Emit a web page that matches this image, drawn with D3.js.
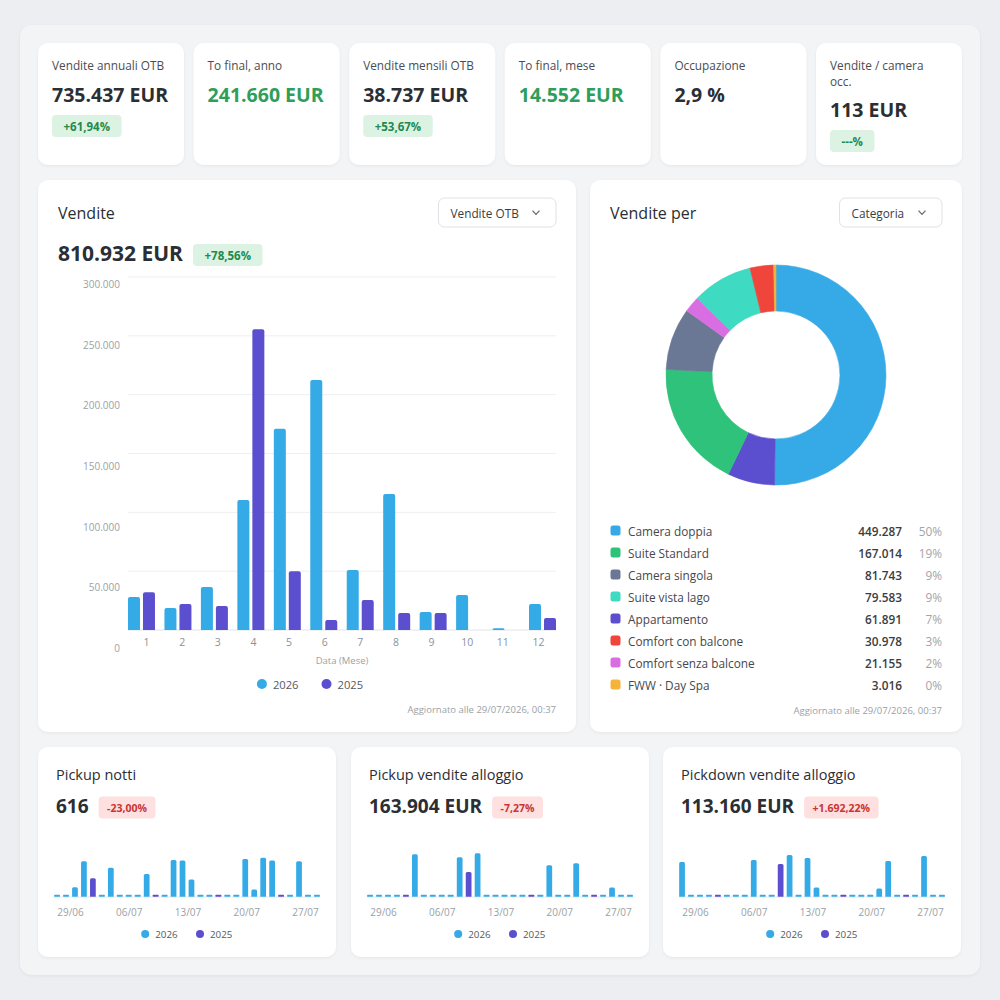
<!DOCTYPE html>
<html><head><meta charset="utf-8">
<script src="https://cdn.jsdelivr.net/npm/d3@7"></script>
<style>
html,body{margin:0;padding:0;background:#eceef1;}
svg{display:block;font-family:"Open Sans",sans-serif;}
</style></head><body>
<svg id="c" width="1000" height="1000"></svg>
<script>
// ---------------- DATA ----------------
const kpiTitles = [["Vendite annuali OTB"],["To final, anno"],["Vendite mensili OTB"],["To final, mese"],["Occupazione"],["Vendite / camera","occ."]];
const kpiValues = ["735.437 EUR","241.660 EUR","38.737 EUR","14.552 EUR","2,9 %","113 EUR"];
const kpiBadges = ["+61,94%", null, "+53,67%", null, null, "---%"];
const kpiGreenValue = [false, true, false, true, false, false];

const months = [1,2,3,4,5,6,7,8,9,10,11,12];
const seriesNames = ["2026","2025"];
const sales2026 = [28000, 18700, 36500, 110500, 171000, 212500, 51000, 115500, 15300, 29700, 1400, 22000];
const sales2025 = [32000, 22000, 20400, 255700, 50000, 8500, 25500, 14400, 14400, 0, 0, 10200];
const yTicks = [0, 50000, 100000, 150000, 200000, 250000, 300000];

const categories = ["Camera doppia","Suite Standard","Camera singola","Suite vista lago","Appartamento","Comfort con balcone","Comfort senza balcone","FWW · Day Spa"];
const catValues = [449287, 167014, 81743, 79583, 61891, 30978, 21155, 3016];
const catColors = ["#36aae6","#2fc27b","#6b7895","#3fdac2","#5b4fcf","#f0453a","#d96ee3","#f5b437"];
const donutOrder = ["Camera doppia","Appartamento","Suite Standard","Camera singola","Comfort senza balcone","Suite vista lago","Comfort con balcone","FWW · Day Spa"];

const days = ["29/06","30/06","01/07","02/07","03/07","04/07","05/07","06/07","07/07","08/07","09/07","10/07","11/07","12/07","13/07","14/07","15/07","16/07","17/07","18/07","19/07","20/07","21/07","22/07","23/07","24/07","25/07","26/07","27/07","28/07"];
const dayTicks = ["29/06","06/07","13/07","20/07","27/07"];
const _ = null;
const notti2026 = [0,0,17,64,_,0,52,0,0,0,41,_,0,66,65,31,0,0,_,0,0,68,13,70,65,_,0,64,0,0];
const notti2025 = [_,_,_,_,33,_,_,_,_,_,_,0,_,_,_,_,_,_,0,_,_,_,_,_,_,0,_,_,_,_];
const pickup2026 = [0,0,0,0,_,34850,0,0,0,0,32400,_,35660,0,0,0,0,0,_,0,25870,0,0,27520,0,_,0,7604,0,0];
const pickup2025 = [_,_,_,_,0,_,_,_,_,_,_,20200,_,_,_,_,_,_,0,_,_,_,_,_,_,0,_,_,_,_];
const pickdown2026 = [15970,0,0,0,_,0,0,0,16890,0,0,_,19190,0,17810,4280,0,0,_,0,0,0,3820,16430,0,_,0,18770,0,0];
const pickdown2025 = [_,_,_,_,0,_,_,_,_,_,_,15050,_,_,_,_,_,_,0,_,_,_,_,_,_,0,_,_,_,_];
const smallTitles = ["Pickup notti","Pickup vendite alloggio","Pickdown vendite alloggio"];
const smallValues = ["616","163.904 EUR","113.160 EUR"];
const smallBadges = ["-23,00%","-7,27%","+1.692,22%"];
const smallMax = [90, 41000, 23000];

// ---------------- STYLE ----------------
const C26 = "#34aae6", C25 = "#5b4fcf";
const TXT = "#2b2e33", GREEN = "#2e9e5b";
const it = d3.formatLocale({decimal:",", thousands:".", grouping:[3], currency:["","€"]});
const fmt = it.format(",.0f");

const svg = d3.select("#c");
const defs = svg.append("defs");
const f = defs.append("filter").attr("id","sh").attr("x","-10%").attr("y","-10%").attr("width","120%").attr("height","130%");
f.append("feDropShadow").attr("dx",0).attr("dy",1).attr("stdDeviation",1.5).attr("flood-color","#000").attr("flood-opacity",0.06);

svg.append("rect").attr("x",20).attr("y",25).attr("width",960).attr("height",950).attr("rx",12).attr("fill","#f3f4f6")
  .attr("filter","url(#sh)");

function card(x,y,w,h){
  return svg.append("rect").attr("x",x).attr("y",y).attr("width",w).attr("height",h).attr("rx",10)
    .attr("fill","#fff").attr("filter","url(#sh)");
}
function badge(g, x, yc, text, good, fs, pad){
  const bg = good ? "#dcf3e4" : "#fde0df";
  const fg = good ? "#1f8a4c" : "#c93434";
  const r = g.append("rect").attr("y", yc-11).attr("height",22).attr("rx",4).attr("fill",bg);
  const t = g.append("text").attr("y", yc).attr("dominant-baseline","central").attr("font-size",fs||11.5)
    .attr("font-weight",700).style("fill",fg).text(text);
  const tw = t.node().getComputedTextLength();
  pad = pad || 11.5;
  r.attr("x", x).attr("width", tw + pad*2);
  t.attr("x", x + pad);
}

// ---------------- KPI ROW ----------------
kpiTitles.forEach((lines,i)=>{
  const x = 38 + i*155.6, w = 146;
  card(x,43,w,122);
  const g = svg.append("g");
  lines.forEach((l,j)=>{
    g.append("text").attr("x",x+14).attr("y",64.5+j*16).attr("dominant-baseline","central")
      .attr("font-size",11.8).style("fill","#4a4d52").text(l);
  });
  const off = (lines.length-1)*15;
  g.append("text").attr("x",x+14).attr("y",94+off).attr("dominant-baseline","central")
    .attr("font-size",19.5).attr("font-weight",700).style("fill", kpiGreenValue[i]?GREEN:TXT).text(kpiValues[i]);
  if(kpiBadges[i]) badge(g, x+14, 126+off, kpiBadges[i], true);
});

// ---------------- MAIN BAR CARD ----------------
card(38,180,538,552);
svg.append("text").attr("x",58).attr("y",213).attr("dominant-baseline","central").attr("font-size",16).style("fill",TXT).text("Vendite");
function dropdown(x,y,w,label){
  svg.append("rect").attr("x",x).attr("y",y).attr("width",w).attr("height",29).attr("rx",6)
    .attr("fill","#fff").attr("stroke","#dfe2e6");
  svg.append("text").attr("x",x+12).attr("y",y+15).attr("dominant-baseline","central").attr("font-size",11.8).style("fill","#3a3d42").text(label);
  const cx = x+w-20, cy = y+14.5;
  svg.append("path").attr("d",`M${cx-3.5},${cy-1.8}L${cx},${cy+1.8}L${cx+3.5},${cy-1.8}`).attr("fill","none").attr("stroke","#666").attr("stroke-width",1.2);
}
dropdown(438.5,198,117.5,"Vendite OTB");
svg.append("text").attr("x",58).attr("y",253).attr("dominant-baseline","central").attr("font-size",21).attr("font-weight",700).style("fill",TXT).text("810.932 EUR");
badge(svg.append("g"),193,255,"+78,56%",true);

const y = d3.scaleLinear().domain([0,300000]).range([630,277]);
const yLab = d3.scaleLinear().domain([0,300000]).range([648,284.5]);
const x0 = d3.scaleBand().domain(months).range([128,556]).paddingInner(0.26).paddingOuter(0);
const x1 = d3.scaleBand().domain(seriesNames).range([0,x0.bandwidth()]).paddingInner(0.2);
const xLab = d3.scalePoint().domain(months).range([146,538]);

const grid = svg.append("g");
grid.selectAll("line").data(yTicks).join("line")
  .attr("x1",128).attr("x2",556).attr("y1",d=>y(d)).attr("y2",d=>y(d))
  .attr("stroke",d=>d===0?"#e2e4e8":"#eeeff1").attr("stroke-width",1);
const yAxis = d3.axisLeft(yLab).tickValues(yTicks).tickSize(0).tickPadding(0).tickFormat(fmt);
const ya = svg.append("g").attr("transform","translate(120,0)").call(yAxis);
ya.select(".domain").remove();
ya.selectAll("text").attr("font-size",10).style("fill","#9a9fa6").attr("font-family","Open Sans");

function topRounded(x,yt,w,yb,r){
  const h = yb-yt; r = Math.min(r,h,w/2);
  if(h<=0) return "";
  return `M${x},${yb}V${yt+r}Q${x},${yt} ${x+r},${yt}H${x+w-r}Q${x+w},${yt} ${x+w},${yt+r}V${yb}Z`;
}
const barData = months.map((m,i)=>[{m,s:"2026",v:sales2026[i]},{m,s:"2025",v:sales2025[i]}]).flat();
svg.append("g").selectAll("path").data(barData.filter(d=>d.v>0)).join("path")
  .attr("d",d=>topRounded(x0(d.m)+x1(d.s), Math.min(y(d.v), y(0)-1.2), x1.bandwidth(), y(0), 2))
  .attr("fill",d=>d.s==="2026"?C26:C25);

const xa = svg.append("g").attr("transform","translate(0,643)").call(d3.axisBottom(xLab).tickSize(0).tickPadding(0));
xa.select(".domain").remove();
xa.selectAll("text").attr("font-size",10.5).style("fill","#8c9198").attr("font-family","Open Sans").attr("dy","0.32em");
svg.append("text").attr("x",342).attr("y",660.5).attr("text-anchor","middle").attr("dominant-baseline","central")
  .attr("font-size",9.5).style("fill","#9a9fa6").text("Data (Mese)");

function legend(cx, cy, fs, gap, r){
  const g = svg.append("g");
  let items = [];
  seriesNames.forEach((s,i)=>{
    const gi = g.append("g");
    gi.append("circle").attr("cx",0).attr("cy",cy).attr("r",r).attr("fill",i===0?C26:C25);
    gi.append("text").attr("x",r+6).attr("y",cy).attr("dominant-baseline","central").attr("font-size",fs).style("fill","#555a61").text(s);
    items.push(gi);
  });
  const widths = items.map(gi=>gi.node().getBBox().width);
  const total = widths[0]+widths[1]+gap;
  let xs = cx - total/2 + r;
  items[0].attr("transform",`translate(${xs},0)`);
  items[1].attr("transform",`translate(${xs+widths[0]+gap},0)`);
}
legend(310, 684, 11.2, 23, 5);
svg.append("text").attr("x",556).attr("y",709.5).attr("text-anchor","end").attr("dominant-baseline","central")
  .attr("font-size",9.5).style("fill","#9a9fa6").text("Aggiornato alle 29/07/2026, 00:37");

// ---------------- DONUT CARD ----------------
card(590,180,372,552);
svg.append("text").attr("x",610).attr("y",213).attr("dominant-baseline","central").attr("font-size",16).style("fill",TXT).text("Vendite per");
dropdown(839.5,198,102.5,"Categoria");
const total = d3.sum(catValues);
const colorOf = d3.scaleOrdinal().domain(categories).range(catColors);
const valOf = new Map(categories.map((c,i)=>[c,catValues[i]]));
const pie = d3.pie().sort(null).value(d=>valOf.get(d));
const arc = d3.arc().innerRadius(64).outerRadius(110);
svg.append("g").attr("transform","translate(776,375)").selectAll("path").data(pie(donutOrder)).join("path")
  .attr("d",arc).attr("fill",d=>colorOf(d.data)).attr("stroke",d=>colorOf(d.data)).attr("stroke-width",0.6);

const leg = svg.append("g");
categories.forEach((c,i)=>{
  const yy = 530.5 + i*22;
  leg.append("rect").attr("x",610.5).attr("y",yy-5).attr("width",10).attr("height",10).attr("rx",2.5).attr("fill",colorOf(c));
  leg.append("text").attr("x",628).attr("y",yy).attr("dominant-baseline","central").attr("font-size",11.8).style("fill","#44484e").text(c);
  leg.append("text").attr("x",902).attr("y",yy).attr("text-anchor","end").attr("dominant-baseline","central").attr("font-size",11.8).attr("font-weight",600).style("fill","#3a3d42").text(fmt(catValues[i]));
  leg.append("text").attr("x",942).attr("y",yy).attr("text-anchor","end").attr("dominant-baseline","central").attr("font-size",11.8).style("fill","#a0a4aa").text(Math.round(catValues[i]/total*100)+"%");
});
svg.append("text").attr("x",942).attr("y",710).attr("text-anchor","end").attr("dominant-baseline","central")
  .attr("font-size",9.5).style("fill","#9a9fa6").text("Aggiornato alle 29/07/2026, 00:37");

// ---------------- SMALL CARDS ----------------
const smallSeries = [[notti2026,notti2025],[pickup2026,pickup2025],[pickdown2026,pickdown2025]];
const cardLefts = [38, 351, 663];
cardLefts.forEach((L,k)=>{
  card(L,747,298,210);
  svg.append("text").attr("x",L+18).attr("y",774).attr("dominant-baseline","central").attr("font-size",14.5).style("fill",TXT).text(smallTitles[k]);
  const vt = svg.append("text").attr("x",L+18).attr("y",805.5).attr("dominant-baseline","central").attr("font-size",19).attr("font-weight",700).style("fill",TXT).text(smallValues[k]);
  const vw = vt.node().getComputedTextLength();
  badge(svg.append("g"), L+18+vw+10, 807.5, smallBadges[k], false, 10.5, 8.5);

  const xs = d3.scaleBand().domain(days).range([L+16, L+282]).paddingInner(0.36).paddingOuter(0.02);
  const ys = d3.scaleLinear().domain([0, smallMax[k]]).range([896.7, 846.7]);
  const xt = d3.scaleLinear().domain([0, 28]).range([L+32, L+267]);
  svg.append("line").attr("x1",L+16).attr("x2",L+282).attr("y1",897).attr("y2",897).attr("stroke","#e6e8eb");
  const [a,b] = smallSeries[k];
  const bars = [];
  days.forEach((d,i)=>{
    let base = 0;
    [[a[i],"2026"],[b[i],"2025"]].forEach(([v,s])=>{
      if(v===null) return;
      bars.push({d, s, v0:base, v1:base+v});
      base += v;
    });
  });
  svg.append("g").selectAll("path").data(bars).join("path")
    .attr("d",o=>{
      const yb = ys(o.v0), yt = Math.min(ys(o.v1), yb-2);
      return topRounded(xs(o.d), yt, xs.bandwidth(), yb, o.v1-o.v0>0?1.5:0.5);
    })
    .attr("fill",o=>o.s==="2026"?C26:C25);
  const ax = svg.append("g").attr("transform","translate(0,913)")
    .call(d3.axisBottom(xt).tickValues(dayTicks.map(t=>days.indexOf(t))).tickFormat(i=>days[i]).tickSize(0).tickPadding(0));
  ax.select(".domain").remove();
  ax.selectAll("text").attr("font-size",10).style("fill","#9a9fa6").attr("font-family","Open Sans").attr("dy","0.32em");
  legend(L+149, 934, 9.8, 18, 4);
});
</script>
</body></html>
